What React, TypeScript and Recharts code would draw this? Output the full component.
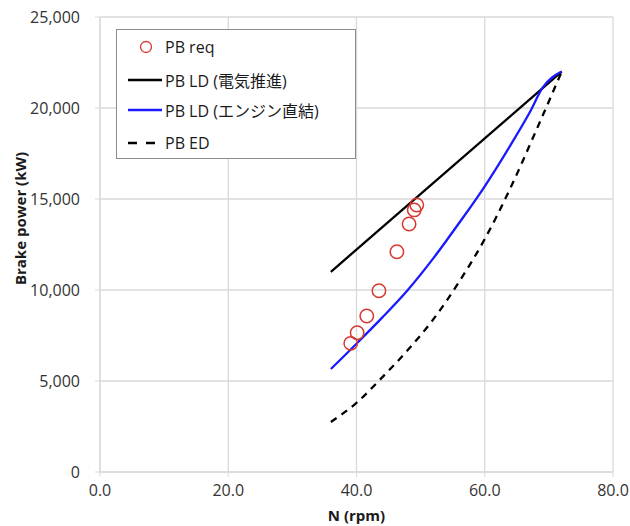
import React from 'react';
import { ComposedChart, Line, Scatter, XAxis, YAxis, CartesianGrid, Label } from 'recharts';

// PB req (measured points)
const reqRpm = [39.1, 40.1, 41.6, 43.5, 46.3, 48.2, 49.0, 49.4];
const reqPower = [7070, 7650, 8570, 9960, 12100, 13630, 14400, 14670];

// PB LD (電気推進)
const elecRpm = [36, 72];
const elecPower = [11000, 22000];

// PB LD (エンジン直結)
const engRpm = [36, 40, 44, 48, 52, 56, 60, 64, 67, 69, 72];
const engPower = [5660, 7050, 8480, 10000, 11750, 13680, 15700, 17950, 19750, 21100, 22000];

// PB ED
const edRpm = [36, 40, 44, 48, 52, 56, 60, 64, 68, 72];
const edPower = [2750, 3800, 5200, 6700, 8400, 10450, 12800, 15600, 18750, 22000];

const xTicks = [0, 20, 40, 60, 80];
const yTicks = [0, 5000, 10000, 15000, 20000, 25000];

const toPoints = (xs: number[], ys: number[]) => xs.map((x, i) => ({ x, y: ys[i] }));

const reqData = toPoints(reqRpm, reqPower);
const elecData = toPoints(elecRpm, elecPower);
const engData = toPoints(engRpm, engPower);
const edData = toPoints(edRpm, edPower);

const FONT = '"Open Sans", "Noto Sans CJK JP", sans-serif';
const GRID = '#d9d9d9';
const RED = '#d8382f';

const LegendBox = () => {
  const row = (top: number, icon: React.ReactNode, text: string) => (
    <div style={{ position: 'absolute', left: 0, top, height: 20, display: 'flex', alignItems: 'center' }}>
      <svg width={48} height={20} style={{ display: 'block' }}>{icon}</svg>
      <span style={{ fontSize: 16, color: '#1a1a1a', whiteSpace: 'nowrap' }}>{text}</span>
    </div>
  );
  return (
    <div
      style={{
        position: 'absolute',
        left: 116,
        top: 29,
        width: 238,
        height: 128,
        border: '1px solid #8c8c8c',
        background: '#fff',
        fontFamily: FONT,
      }}
    >
      {row(7, <circle cx={29} cy={10} r={5.5} fill="none" stroke={RED} strokeWidth={1.3} />, 'PB req')}
      {row(40, <line x1={11} x2={45} y1={10} y2={10} stroke="#000" strokeWidth={2.3} />, 'PB LD (電気推進)')}
      {row(70, <line x1={11} x2={45} y1={10} y2={10} stroke="#1a1aff" strokeWidth={2.3} />, 'PB LD (エンジン直結)')}
      {row(103, <line x1={11} x2={38} y1={10} y2={10} stroke="#000" strokeWidth={2.3} strokeDasharray="9 9" />, 'PB ED')}
    </div>
  );
};

const App = () => {
  return (
    <div style={{ position: 'absolute', left: 0, top: 0, width: 630, height: 526, background: '#fff', fontFamily: FONT }}>
      <ComposedChart width={630} height={526} margin={{ top: 17, right: 17, left: 0, bottom: 0 }}>
        <CartesianGrid stroke={GRID} strokeWidth={1.3} />
        <XAxis
          type="number"
          dataKey="x"
          domain={[0, 80]}
          ticks={xTicks}
          tickFormatter={(v: number) => v.toFixed(1)}
          height={54}
          stroke={GRID}
          tickSize={5}
          tickMargin={8}
          tick={{ fill: '#333', fontSize: 16, fontFamily: FONT }}
          allowDataOverflow
        >
          <Label value="N (rpm)" position="insideBottom" offset={5} fill="#1a1a1a" fontSize={15} fontWeight="bold" fontFamily={FONT} />
        </XAxis>
        <YAxis
          type="number"
          dataKey="y"
          domain={[0, 25000]}
          ticks={yTicks}
          tickFormatter={(v: number) => v.toLocaleString('en-US')}
          width={100}
          stroke={GRID}
          tickSize={5}
          tickMargin={15}
          tick={{ fill: '#333', fontSize: 16, fontFamily: FONT }}
        >
          <Label
            content={(props: any) => {
              const vb = props.viewBox || {};
              const cx = (vb.x || 0) + 20;
              const cy = (vb.y || 0) + (vb.height || 0) / 2 - 26;
              return (
                <text
                  x={cx}
                  y={cy}
                  transform={`rotate(-90, ${cx}, ${cy})`}
                  textAnchor="middle"
                  dominantBaseline="central"
                  fill="#1a1a1a"
                  fontSize={15}
                  fontWeight="bold"
                  fontFamily={FONT}
                >
                  Brake power (kW)
                </text>
              );
            }}
          />
        </YAxis>
        <Line data={elecData} dataKey="y" type="linear" stroke="#000" strokeWidth={2.3} dot={false} isAnimationActive={false} />
        <Line data={engData} dataKey="y" type="monotone" stroke="#1a1aff" strokeWidth={2.3} dot={false} isAnimationActive={false} />
        <Line data={edData} dataKey="y" type="monotone" stroke="#000" strokeWidth={2.3} strokeDasharray="7 6" dot={false} isAnimationActive={false} />
        <Scatter
          data={reqData}
          dataKey="y"
          isAnimationActive={false}
          shape={(p: any) => <circle cx={p.cx} cy={p.cy} r={6.7} fill="none" stroke={RED} strokeWidth={1.5} />}
        />
      </ComposedChart>
      <LegendBox />
    </div>
  );
};

export default App;
